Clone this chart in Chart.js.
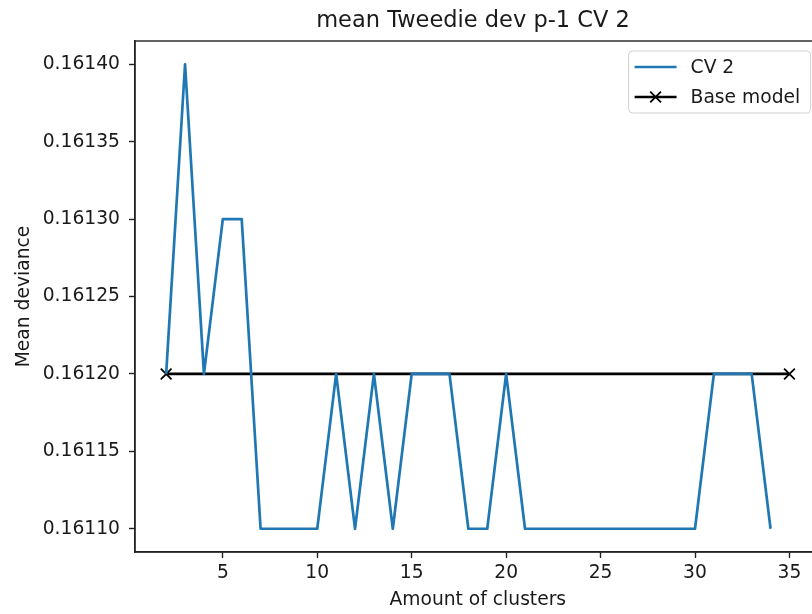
<!DOCTYPE html>
<html lang="en">
<head>
    <meta charset="UTF-8">
    <title>mean Tweedie dev p-1 CV 2</title>
    <style>
        body { margin: 0; overflow: hidden; background: #fff; }
        #grafico { display: block; }
    </style>
</head>
<body>
    <canvas id="grafico" width="830" height="614"></canvas>
    <script src="https://cdn.jsdelivr.net/npm/chart.js"></script>
    <script>
        // clusters tried and the mean deviance for each one
        const clusters = [2, 3, 4, 5, 6, 7, 8, 9, 10, 11, 12, 13, 14, 15, 16, 17, 18,
                          19, 20, 21, 22, 23, 24, 25, 26, 27, 28, 29, 30, 31, 32, 33, 34]
        const cv2 = [0.16120, 0.16140, 0.16120, 0.16130, 0.16130, 0.16110, 0.16110, 0.16110,
                     0.16110, 0.16120, 0.16110, 0.16120, 0.16110, 0.16120, 0.16120, 0.16120,
                     0.16110, 0.16110, 0.16120, 0.16110, 0.16110, 0.16110, 0.16110, 0.16110,
                     0.16110, 0.16110, 0.16110, 0.16110, 0.16110, 0.16120, 0.16120, 0.16120,
                     0.16110]

        // base model drawn as a flat reference line
        const baseX = [2, 35]
        const baseY = [0.16120, 0.16120]

        const xTicks = [5, 10, 15, 20, 25, 30, 35]
        const yTicks = [0.16110, 0.16115, 0.16120, 0.16125, 0.16130, 0.16135, 0.16140]

        const titulo = 'mean Tweedie dev p-1 CV 2'
        const fonte = 'DejaVu Sans'
        const corTexto = '#1a1a1a'
        const tamTexto = 18.7

        // title, frame on all four sides and legend box in the upper right
        const moldura = {
            id: 'moldura',
            afterDatasetsDraw(chart) {
                const { ctx, chartArea: a } = chart
                ctx.save()
                ctx.strokeStyle = '#222'
                ctx.lineWidth = 1.4
                ctx.strokeRect(a.left, a.top, a.right - a.left, a.bottom - a.top)

                ctx.font = `22.5px ${fonte}`
                ctx.fillStyle = corTexto
                ctx.textAlign = 'center'
                ctx.textBaseline = 'middle'
                ctx.fillText(titulo, a.left + 338, 21)

                const w = 182, h = 62
                const x0 = a.right - 10 - w, y0 = a.top + 10
                ctx.beginPath()
                ctx.roundRect(x0, y0, w, h, 4)
                ctx.fillStyle = 'rgba(255,255,255,0.8)'
                ctx.fill()
                ctx.strokeStyle = '#d0d0d0'
                ctx.lineWidth = 1
                ctx.stroke()

                ctx.font = `${tamTexto}px ${fonte}`
                ctx.textAlign = 'left'
                ctx.fillStyle = corTexto
                chart.data.datasets.forEach((ds, i) => {
                    const y = y0 + 16 + i * 30
                    ctx.beginPath()
                    ctx.moveTo(x0 + 6, y)
                    ctx.lineTo(x0 + 48, y)
                    ctx.strokeStyle = ds.borderColor
                    ctx.lineWidth = ds.borderWidth
                    ctx.stroke()
                    if (ds.pointRadius > 0) {
                        const cx = x0 + 27, r = 5.4
                        ctx.beginPath()
                        ctx.moveTo(cx - r, y - r); ctx.lineTo(cx + r, y + r)
                        ctx.moveTo(cx - r, y + r); ctx.lineTo(cx + r, y - r)
                        ctx.lineWidth = ds.pointBorderWidth
                        ctx.stroke()
                    }
                    ctx.fillText(ds.label, x0 + 62, y + 1)
                })
                ctx.restore()
            }
        }

        const grafico = new Chart(document.getElementById('grafico'), {
            type: 'line',
            data: {
                datasets: [{
                    label: 'CV 2',
                    data: clusters.map((c, i) => ({ x: c, y: cv2[i] })),
                    borderColor: '#1f77b4',
                    borderWidth: 2.7,
                    borderJoinStyle: 'round',
                    pointRadius: 0,
                    tension: 0
                }, {
                    label: 'Base model',
                    data: baseX.map((c, i) => ({ x: c, y: baseY[i] })),
                    borderColor: '#000',
                    borderWidth: 2.7,
                    pointStyle: 'crossRot',
                    pointRadius: 7.6,
                    pointBorderWidth: 1.8,
                    pointBorderColor: '#000',
                    tension: 0
                }]
            },
            options: {
                responsive: false,
                animation: false,
                layout: { padding: { top: 41, right: 9 } },
                plugins: {
                    legend: { display: false },
                    tooltip: { enabled: false },
                    title: { display: false }
                },
                scales: {
                    x: {
                        type: 'linear',
                        min: 0.35,
                        max: 36.65,
                        afterFit: s => { s.height = 62 },
                        afterBuildTicks: s => { s.ticks = xTicks.map(v => ({ value: v })) },
                        grid: { drawOnChartArea: false, tickLength: 6, tickWidth: 1.4, tickColor: '#222' },
                        border: { color: '#222', width: 1.4 },
                        ticks: {
                            color: corTexto,
                            font: { family: fonte, size: tamTexto },
                            padding: 4,
                            maxRotation: 0,
                            callback: v => String(v)
                        },
                        title: {
                            display: true,
                            text: 'Amount of clusters',
                            color: corTexto,
                            font: { family: fonte, size: tamTexto },
                            padding: { top: 0, bottom: 3 }
                        }
                    },
                    y: {
                        min: 0.161085,
                        max: 0.161415,
                        afterFit: s => { s.width = 135 },
                        afterBuildTicks: s => { s.ticks = yTicks.map(v => ({ value: v })) },
                        grid: { drawOnChartArea: false, tickLength: 6, tickWidth: 1.4, tickColor: '#222' },
                        border: { color: '#222', width: 1.4 },
                        ticks: {
                            color: corTexto,
                            font: { family: fonte, size: tamTexto },
                            padding: 9,
                            callback: v => v.toFixed(5)
                        },
                        title: {
                            display: true,
                            text: 'Mean deviance',
                            color: corTexto,
                            font: { family: fonte, size: tamTexto },
                            padding: { top: 13, bottom: 0 }
                        }
                    }
                }
            },
            plugins: [moldura]
        })
    </script>
</body>
</html>
